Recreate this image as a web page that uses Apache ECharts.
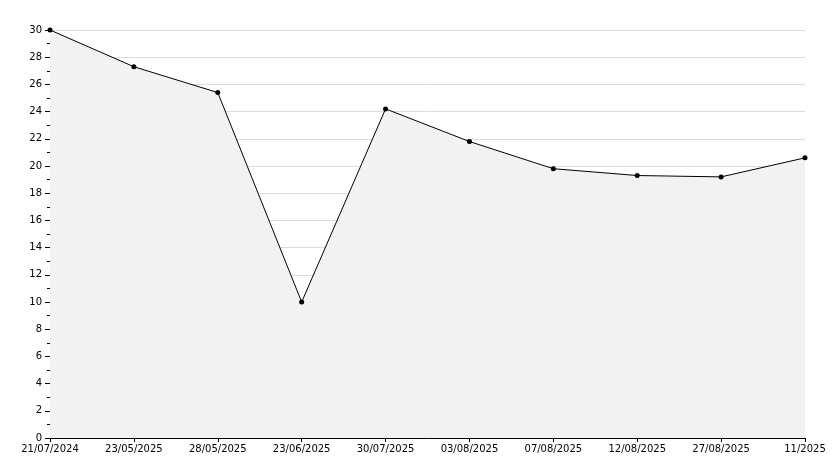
<!DOCTYPE html>
<html><head><meta charset="utf-8">
<script src="https://cdn.jsdelivr.net/npm/echarts@6/dist/echarts.min.js"></script>
<style>html,body{margin:0;padding:0;background:#fff}#c{width:834px;height:468px}</style>
</head><body><div id="c"></div>
<script>
const categories = ["21/07/2024","23/05/2025","28/05/2025","23/06/2025","30/07/2025","03/08/2025","07/08/2025","12/08/2025","27/08/2025","11/2025"];
const values = [30, 27.3, 25.4, 10, 24.2, 21.8, 19.8, 19.3, 19.2, 20.6];
const chart = echarts.init(document.getElementById('c'));
chart.setOption({
  animation:false,
  backgroundColor:'#fff',
  grid:{left:50,right:29,top:30,bottom:30},
  xAxis:{type:'category',data:categories,boundaryGap:false,
    axisLine:{lineStyle:{color:'#000',width:1}},
    axisTick:{show:true,length:4,lineStyle:{color:'#000'}},
    axisLabel:{color:'#000',fontSize:10,fontFamily:'DejaVu Sans',margin:6,interval:0},
    splitLine:{show:false}},
  yAxis:{type:'value',min:0,max:30,interval:2,
    axisLine:{show:true,lineStyle:{color:'#000',width:1}},
    axisTick:{show:true,length:5,lineStyle:{color:'#000'}},
    minorTick:{show:true,splitNumber:2,length:3,lineStyle:{color:'#000'}},
    axisLabel:{color:'#000',fontSize:10,fontFamily:'DejaVu Sans',margin:8},
    splitLine:{show:true,lineStyle:{color:'#dcdcdc',width:1}}},
  series:[{type:'line',data:values,symbol:'circle',symbolSize:5,
    itemStyle:{color:'#000'},lineStyle:{color:'#000',width:1},
    areaStyle:{color:'#f2f2f2',opacity:1}}]
});
</script></body></html>
